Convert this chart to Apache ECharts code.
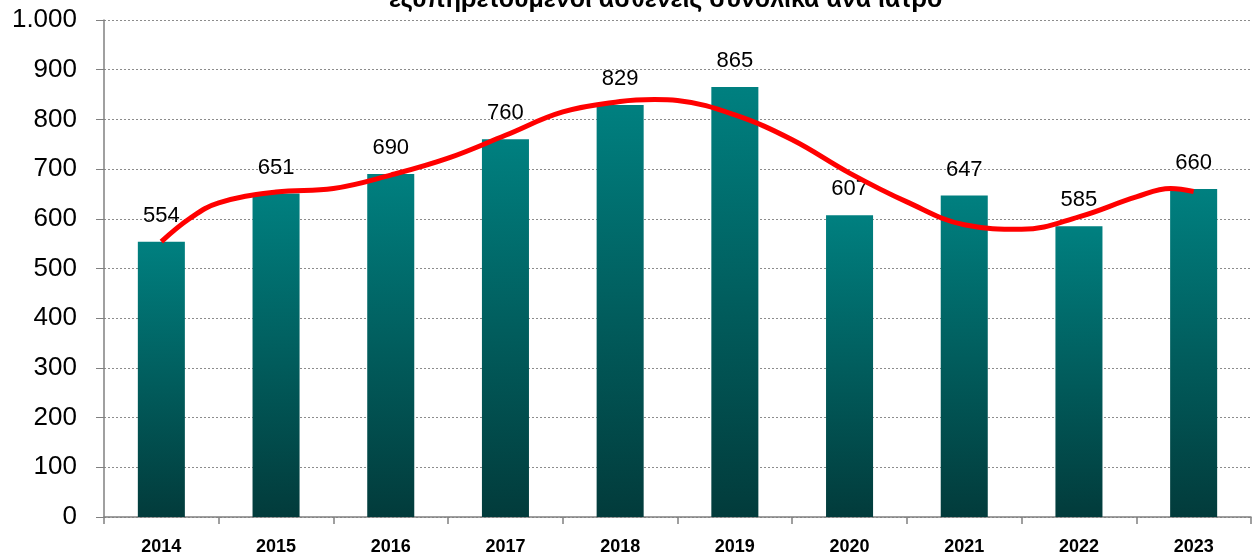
<!DOCTYPE html>
<html>
<head>
<meta charset="utf-8">
<script src="https://cdn.jsdelivr.net/npm/echarts@6/dist/echarts.min.js"></script>
<style>
html,body{margin:0;padding:0;background:#fff;}
#chart{width:1253px;height:557px;}
</style>
</head>
<body>
<div id="chart"></div>
<script>
const titleText = 'εξυπηρετούμενοι ασθενείς συνολικά ανά ιατρό';
const years = ['2014','2015','2016','2017','2018','2019','2020','2021','2022','2023'];
const patients = [554, 651, 690, 760, 829, 865, 607, 647, 585, 660];
const yTicks = [0, 100, 200, 300, 400, 500, 600, 700, 800, 900, 1000];
// trend curve: [category index, value]
const trendX = [0, 0.25, 0.5, 1, 1.5, 2, 2.5, 3, 3.5, 4, 4.3, 4.5, 5, 5.5, 6, 6.5, 7, 7.5, 8, 8.5, 8.8, 9];
const trendY = [554, 601, 632, 654, 661, 688, 722, 768, 815, 836, 840, 838, 809, 759, 692, 634, 588, 579, 604, 644, 661, 655];

const chart = echarts.init(document.getElementById('chart'));
const fmt = v => v >= 1000 ? String(v).replace(/(\d)(\d{3})$/, '$1.$2') : String(v);

chart.setOption({
  animation: false,
  backgroundColor: '#ffffff',
  title: {
    text: titleText,
    left: 384,
    top: -17,
    textStyle: {fontFamily: 'Liberation Sans', fontWeight: 'bold', fontSize: 25, color: '#000'}
  },
  grid: {left: 104, right: 2, top: 20, bottom: 40, containLabel: false},
  xAxis: [{
    type: 'category',
    data: years,
    axisLine: {lineStyle: {color: '#808080', width: 1.5}},
    axisTick: {show: true, length: 7, alignWithLabel: false, lineStyle: {color: '#808080', width: 1.5}},
    axisLabel: {margin: 21, fontFamily: 'Liberation Sans', fontWeight: 'bold', fontSize: 18, color: '#000'}
  }, {
    type: 'value',
    min: -0.5,
    max: 9.5,
    show: false
  }],
  yAxis: {
    type: 'value',
    min: yTicks[0],
    max: yTicks[yTicks.length - 1],
    interval: 100,
    axisLine: {show: true, onZero: false, lineStyle: {color: '#808080', width: 1.5}},
    axisTick: {show: true, length: 8, lineStyle: {color: '#808080', width: 1}},
    axisLabel: {margin: 27, fontFamily: 'Liberation Sans', fontSize: 26, color: '#000', formatter: fmt},
    splitLine: {show: true, lineStyle: {color: '#8c8c8c', type: [2, 2], width: 1}}
  },
  series: [{
    type: 'bar',
    data: patients,
    barWidth: '41%',
    itemStyle: {
      color: new echarts.graphic.LinearGradient(0, 0, 0, 1, [
        {offset: 0, color: '#008080'},
        {offset: 1, color: '#023b3b'}
      ])
    },
    label: {show: true, position: 'top', distance: 15, fontFamily: 'Liberation Sans', fontSize: 22, color: '#000'}
  }, {
    type: 'line',
    xAxisIndex: 1,
    data: trendX.map((x, i) => [x, trendY[i]]),
    smooth: 0.4,
    showSymbol: false,
    symbol: 'none',
    lineStyle: {color: '#ff0000', width: 5},
    z: 5
  }]
});
</script>
</body>
</html>
